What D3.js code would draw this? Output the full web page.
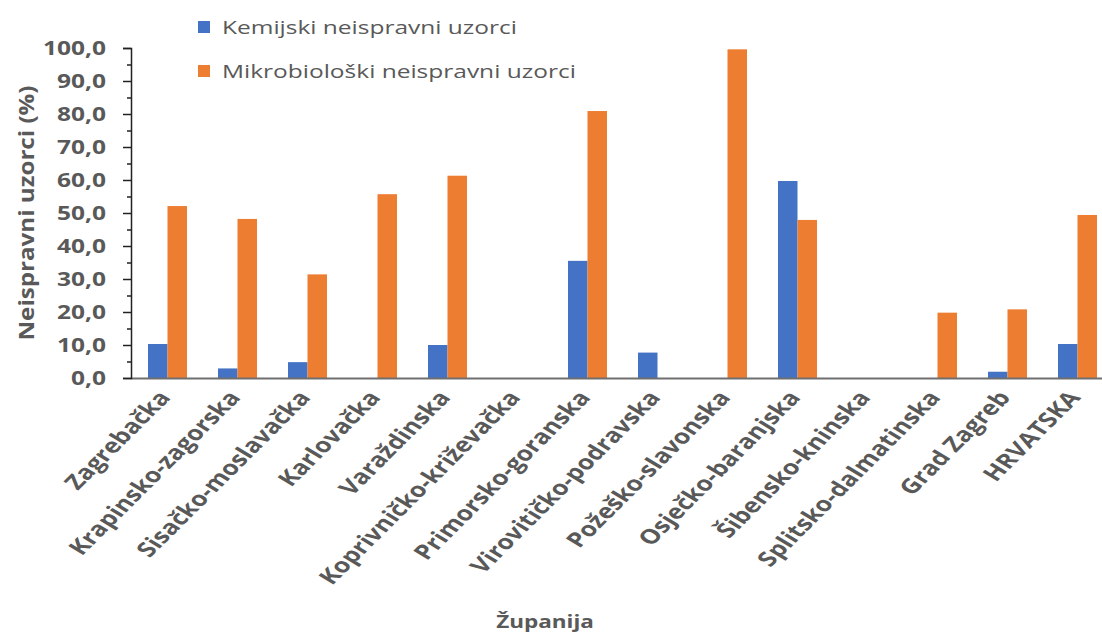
<!DOCTYPE html>
<html>
<head>
<meta charset="utf-8">
<script src="https://cdn.jsdelivr.net/npm/d3@7"></script>
<style>
  html, body { margin: 0; padding: 0; background: #fff; }
  svg { display: block; }
  text { font-family: "Open Sans", "DejaVu Sans", sans-serif; fill: #595959; }
</style>
</head>
<body>
<svg id="chart" width="1102" height="633"></svg>
<script>
const categories = ["Zagrebačka", "Krapinsko-zagorska", "Sisačko-moslavačka", "Karlovačka", "Varaždinska",
  "Koprivničko-križevačka", "Primorsko-goranska", "Virovitičko-podravska", "Požeško-slavonska",
  "Osječko-baranjska", "Šibensko-kninska", "Splitsko-dalmatinska", "Grad Zagreb", "HRVATSKA"];
const kemijski = [10.3, 2.9, 4.8, 0, 10.0, 0, 35.5, 7.7, 0, 59.7, 0, 0, 1.9, 10.3];
const mikrobioloski = [52.1, 48.2, 31.4, 55.7, 61.3, 0, 80.9, 0, 99.6, 47.9, 0, 19.8, 20.8, 49.4];
const seriesNames = ["Kemijski neispravni uzorci", "Mikrobiološki neispravni uzorci"];
const seriesColors = ["#4472C4", "#ED7D31"];
const yTicks = [0, 10, 20, 30, 40, 50, 60, 70, 80, 90, 100];
const yMinorTicks = [5, 15, 25, 35, 45, 55, 65, 75, 85, 95];
const yTitle = "Neispravni uzorci (%)";
const xTitle = "Županija";

const SX = 1.29; // horizontal stretch of the text in the reference

const svg = d3.select("#chart");
const axisX = 131;
const y = d3.scaleLinear().domain([0, 100]).range([378, 48]);
const x = d3.scaleBand().domain(categories).range([132.5, 1112.5]).padding(0);
const sub = d3.scaleBand().domain([0, 1]).range([-19.5, 19.5]).padding(0);

const series = [kemijski, mikrobioloski];

// bars
series.forEach((vals, si) => {
  svg.append("g").selectAll("rect")
    .data(vals.map((v, i) => ({ v, c: categories[i] })))
    .join("rect")
    .attr("x", d => x(d.c) + x.bandwidth() / 2 + sub(si))
    .attr("width", sub.bandwidth())
    .attr("y", d => y(d.v))
    .attr("height", d => y(0) - y(d.v))
    .attr("fill", seriesColors[si]);
});

// x axis line
svg.append("line")
  .attr("x1", axisX).attr("x2", 1102)
  .attr("y1", y(0) + 0.5).attr("y2", y(0) + 0.5)
  .attr("stroke", "#6f6f6f").attr("stroke-width", 2);

// y axis
const yAxis = d3.axisLeft(y).tickValues(yTicks).tickSize(8)
  .tickFormat(d => d3.format(".1f")(d).replace(".", ","));
const gy = svg.append("g").attr("transform", `translate(${axisX},0)`).call(yAxis);
gy.select(".domain").attr("stroke", "#222").attr("stroke-width", 1.5);
gy.selectAll(".tick line").attr("stroke", "#222").attr("stroke-width", 1.5);
gy.selectAll(".tick text")
  .attr("x", 0)
  .attr("transform", `translate(-25,0) scale(${SX},1)`)
  .style("font-size", "19px").style("font-weight", "bold")
  .style("font-family", "'Open Sans', sans-serif")
  .attr("fill", "#595959");
const yMinor = d3.axisLeft(y).tickValues(yMinorTicks).tickSize(4).tickFormat("");
const gym = svg.append("g").attr("transform", `translate(${axisX},0)`).call(yMinor);
gym.select(".domain").remove();
gym.selectAll(".tick line").attr("stroke", "#222").attr("stroke-width", 1.5);

// x labels
svg.append("g").selectAll("text")
  .data(categories)
  .join("text")
  .attr("transform", d => `translate(${x(d) + x.bandwidth() / 2 + 4},${y(0) + 20}) scale(${SX},1) rotate(-52)`)
  .attr("text-anchor", "end")
  .style("font-size", "20.5px").style("font-weight", "bold")
  .text(d => d);

// y title
svg.append("text")
  .attr("transform", `translate(34,${(y(0) + y(100)) / 2}) rotate(-90)`)
  .attr("text-anchor", "middle")
  .attr("textLength", 255).attr("lengthAdjust", "spacingAndGlyphs")
  .style("font-size", "21px").style("font-weight", "bold")
  .text(yTitle);

// x title
svg.append("text")
  .attr("transform", `translate(545,628) scale(1.25,1)`)
  .attr("text-anchor", "middle")
  .style("font-size", "18px").style("font-weight", "bold")
  .text(xTitle);

// legend
const legend = svg.append("g");
seriesNames.forEach((name, i) => {
  const ly = 27 + i * 44;
  legend.append("rect").attr("x", 198).attr("y", ly - 6).attr("width", 12).attr("height", 12)
    .attr("fill", seriesColors[i]);
  legend.append("text")
    .attr("transform", `translate(222,${ly}) scale(${SX},1)`)
    .attr("dy", "0.35em")
    .style("font-size", "19px").text(name);
});
</script>
</body>
</html>
